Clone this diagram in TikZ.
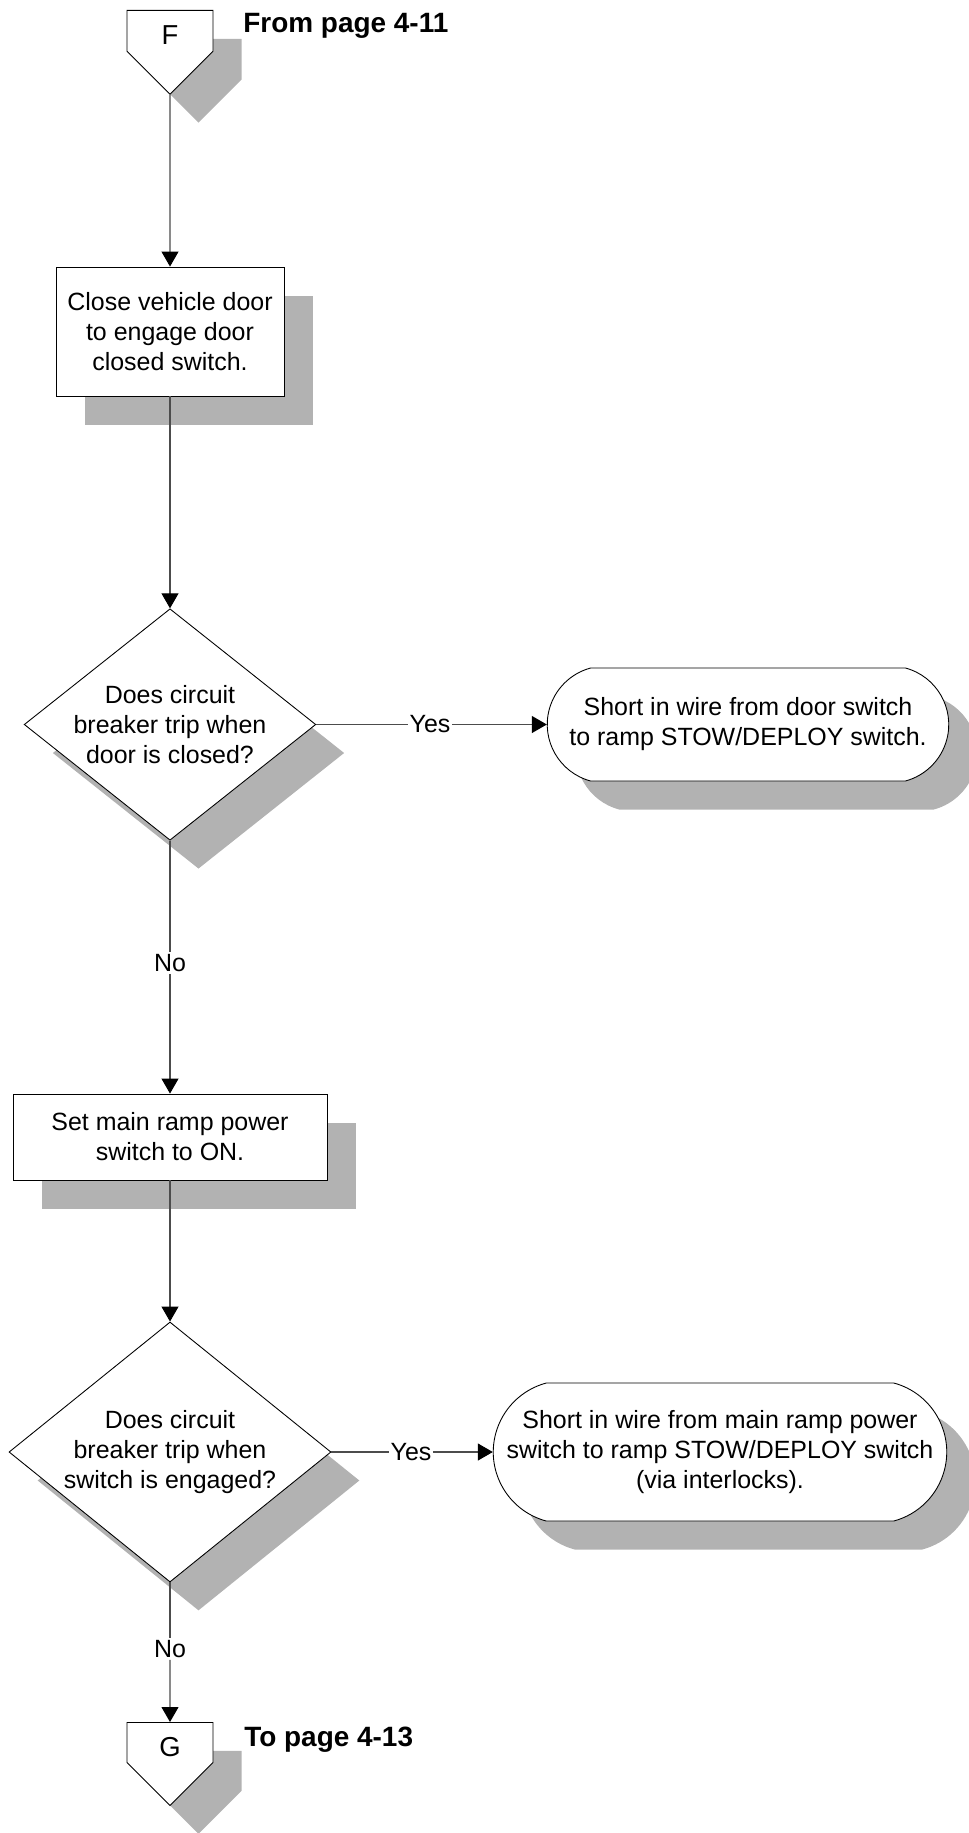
\documentclass[tikz,border=0pt]{standalone}
\usepackage{fontspec}
\setmainfont{Liberation Sans}
\usetikzlibrary{shapes.geometric, shapes.misc, shapes.symbols, shadows, arrows.meta}

\begin{document}
\begin{tikzpicture}[
    font = \fontsize{14.2}{17.1}\selectfont,
    shadowed/.style = {drop shadow = {shadow xshift = 0.57cm, shadow yshift = -0.57cm, fill = black!30, opacity = 1}},
    proc/.style = {shape = rectangle, draw, fill = white, line width = 0.5pt, align = center, shadowed},
    dec/.style = {shape = diamond, draw, fill = white, line width = 0.5pt, align = center, inner sep = 0pt, shadowed},
    term/.style = {shape = rounded rectangle, rounded rectangle arc length = 150, draw, fill = white, line width = 0.5pt, align = center, inner xsep = 1pt, shadowed},
    offpage/.style = {shape = signal, signal to = south, signal pointer angle = 90, draw, fill = white, line width = 0.5pt, minimum width = 1.72cm, minimum height = 1.10cm, anchor = north, text height = 0.56cm, font = \fontsize{15.6}{18}\selectfont, shadowed},
    pagelbl/.style = {font = \fontsize{15.9}{19}\selectfont\bfseries, anchor = base west, inner sep = 0pt},
    lbl/.style = {fill = white, inner sep = 1pt},
    wire/.style = {draw = black!70, line width = 0.6pt},
    flow/.style = {wire, -{Triangle[length = 3mm, width = 3.4mm, color = black]}}
]
    \useasboundingbox (0,0) rectangle (19.38,-36.66);

    % off-page connectors
    \node[offpage] (F) at (3.40,-0.20) {F};
    \node[pagelbl] (FL) at (4.86,-0.66) {From page 4-11};
    \node[offpage] (G) at (3.40,-34.44) {G};
    \node[pagelbl] (GL) at (4.88,-34.92) {To page 4-13};

    % steps
    \node[proc, minimum width = 4.56cm, minimum height = 2.58cm] (P1) at (3.40,-6.63) {Close vehicle door\\to engage door\\closed switch.};
    \node[dec, minimum width = 5.72cm, minimum height = 4.54cm, shape aspect = 1.26] (D1) at (3.40,-14.49) {Does circuit\\breaker trip when\\door is closed?};
    \node[term, minimum width = 8.1cm, minimum height = 2.26cm] (T1) at (14.96,-14.49) {Short in wire from door switch\\to ramp STOW/DEPLOY switch.};
    \node[proc, minimum width = 6.28cm, minimum height = 1.72cm] (P2) at (3.40,-22.74) {Set main ramp power\\switch to ON.};
    \node[dec, minimum width = 6.44cm, minimum height = 5.20cm, shape aspect = 1.24] (D2) at (3.40,-29.04) {Does circuit\\breaker trip when\\switch is engaged?};
    \node[term, minimum width = 9.14cm, minimum height = 2.76cm] (T2) at (14.40,-29.04) {Short in wire from main ramp power\\switch to ramp STOW/DEPLOY switch\\(via interlocks).};

    % answers
    \node[lbl] (Y1) at (8.60,-14.49) {Yes};
    \node[lbl] (N1) at (3.40,-19.26) {No};
    \node[lbl] (Y2) at (8.22,-29.04) {Yes};
    \node[lbl] (N2) at (3.40,-32.98) {No};

    \draw[flow] (F) -- (P1);
    \draw[flow] (P1) -- (D1);
    \draw[wire] (D1) -- (Y1);
    \draw[flow] (Y1) -- (T1);
    \draw[wire] (D1) -- (N1);
    \draw[flow] (N1) -- (P2);
    \draw[flow] (P2) -- (D2);
    \draw[wire] (D2) -- (Y2);
    \draw[flow] (Y2) -- (T2);
    \draw[wire] (D2) -- (N2);
    \draw[flow] (N2) -- (G);
\end{tikzpicture}
\end{document}
